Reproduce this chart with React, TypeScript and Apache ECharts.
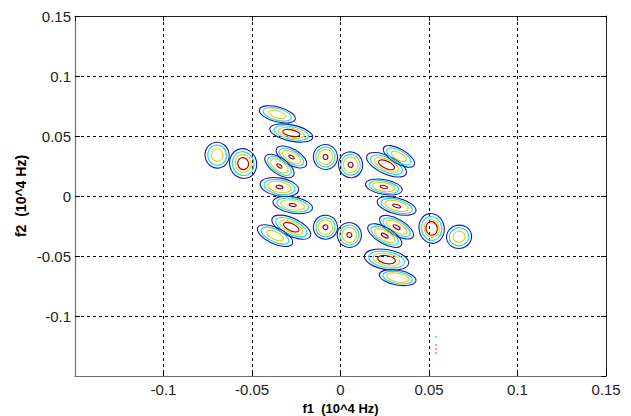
import React, { useEffect, useRef } from "react";
import * as echarts from "echarts";

// Blob (spectral peak) centers in f1 / f2 (10^4 Hz)
const blobF1 = [-0.0357, -0.0278, -0.0697, -0.055, -0.0277, -0.0345, -0.0085, -0.0345, -0.027, -0.0278, -0.037, -0.0085,
  0.0057, 0.026, 0.033, 0.0245, 0.0317, 0.0317, 0.025, 0.005, 0.0515, 0.067, 0.026, 0.0323];
const blobF2 = [0.068, 0.0525, 0.034, 0.027, 0.0325, 0.025, 0.0325, 0.0075, -0.0075, -0.026, -0.033, -0.026,
  0.026, 0.026, 0.033, 0.0075, -0.0083, -0.026, -0.033, -0.0325, -0.027, -0.034, -0.053, -0.068];
// spread of each peak (outer contour semi-axes) along f1 and f2
const spreadF1 = [0.0105, 0.0124, 0.0068, 0.0076, 0.0096, 0.0096, 0.0068, 0.011, 0.0113, 0.0119, 0.0108, 0.0068,
  0.0068, 0.0122, 0.0099, 0.0105, 0.0113, 0.0108, 0.0108, 0.0068, 0.0071, 0.0071, 0.0127, 0.0105];
const spreadF2 = [0.0062, 0.0067, 0.0108, 0.0125, 0.0067, 0.0067, 0.0104, 0.0075, 0.0067, 0.0075, 0.0067, 0.01,
  0.0108, 0.0075, 0.0062, 0.0062, 0.0067, 0.0067, 0.0067, 0.0104, 0.0125, 0.0097, 0.0083, 0.0062];
// tilt of each peak (degrees, clockwise)
const tiltDeg = [15, 12, -10, -15, 30, 35, -10, 10, 10, 25, 25, -10, -10, 25, 30, 10, 15, 30, 30, -15, -10, -10, 10, 10];
// number of contour levels reached by each peak
const levelCount = [3, 4, 3, 4, 4, 4, 4, 4, 4, 4, 3, 4, 4, 4, 3, 4, 4, 4, 4, 4, 4, 3, 4, 4];
// relative size of the highest-level contour
const coreSize = [0, 0.4, 0, 0.4, 0.18, 0.18, 0.2, 0.18, 0.18, 0.4, 0, 0.2, 0.2, 0.4, 0, 0.2, 0.2, 0.2, 0.2, 0.2, 0.45, 0, 0.4, 0];

const dotCyan = [[0.054, -0.1175]];
const dotRed = [[0.054, -0.124], [0.054, -0.1275], [0.054, -0.131]];

const levelColors = ["#1c1c96", "#00e1ff", "#ffc400", "#990000"];

const fmt = (v: number) => String(Math.round(v * 100) / 100);

export default function App() {
  const ref = useRef<HTMLDivElement>(null);
  useEffect(() => {
    if (!ref.current) return;
    const chart = echarts.init(ref.current, undefined, { renderer: "svg" });
    const blobData = blobF1.map((x, i) => [x, blobF2[i], spreadF1[i], spreadF2[i], tiltDeg[i], levelCount[i], coreSize[i]]);
    const labelStyle = { color: "#222", fontSize: 15, fontFamily: "Liberation Sans, Arial, sans-serif" };
    const grid = { color: "#000", type: [3, 3] as any, width: 1 };
    chart.setOption({
      animation: false,
      grid: { left: 75, right: 25, top: 16, bottom: 40, containLabel: false },
      xAxis: [
        {
          type: "value", min: -0.15, max: 0.15, interval: 0.05, position: "bottom",
          axisLine: { show: true, onZero: false, lineStyle: { color: "#707070", width: 1.2 } },
          axisTick: { show: true, inside: true, length: 5, lineStyle: { color: "#000" } },
          axisLabel: { ...labelStyle, showMinLabel: false, margin: 6, formatter: fmt },
          splitLine: { show: true, showMinLine: false, showMaxLine: false, lineStyle: grid },
        },
        {
          type: "value", min: -0.15, max: 0.15, interval: 0.05, position: "top",
          axisLine: { show: true, onZero: false, lineStyle: { color: "#222" } },
          axisTick: { show: true, inside: true, length: 5, lineStyle: { color: "#000" } },
          axisLabel: { show: false }, splitLine: { show: false },
        },
      ],
      yAxis: [
        {
          type: "value", min: -0.15, max: 0.15, interval: 0.05, position: "left",
          axisLine: { show: true, onZero: false, lineStyle: { color: "#707070", width: 1.2 } },
          axisTick: { show: true, inside: true, length: 5, lineStyle: { color: "#000" } },
          axisLabel: { ...labelStyle, showMinLabel: false, margin: 4, formatter: fmt },
          splitLine: { show: true, showMinLine: false, showMaxLine: false, lineStyle: grid },
        },
        {
          type: "value", min: -0.15, max: 0.15, interval: 0.05, position: "right",
          axisLine: { show: true, onZero: false, lineStyle: { color: "#222" } },
          axisTick: { show: true, inside: true, length: 5, lineStyle: { color: "#000" } },
          axisLabel: { show: false }, splitLine: { show: false },
        },
      ],
      graphic: [
        {
          type: "text", x: 340.5, y: 408,
          style: { text: "f1  (10^4 Hz)", fill: "#000", font: "bold 13px Liberation Sans, Arial, sans-serif", align: "center", verticalAlign: "middle" },
        },
        {
          type: "text", x: 21, y: 196, rotation: Math.PI / 2,
          style: { text: "f2  (10^4 Hz)", fill: "#000", font: "bold 14px Liberation Sans, Arial, sans-serif", align: "center", verticalAlign: "middle" },
        },
      ],
      series: [
        {
          type: "custom",
          coordinateSystem: "cartesian2d",
          xAxisIndex: 0, yAxisIndex: 0,
          encode: { x: 0, y: 1 },
          clip: true,
          data: blobData,
          renderItem: (params: any, api: any) => {
            const p = api.coord([api.value(0), api.value(1)]);
            const s = api.size([api.value(2), api.value(3)]);
            const tilt = api.value(4);
            const lv = api.value(5);
            const core = api.value(6);
            const scales = lv === 4 ? [1, 0.8, 0.6, core] : [1, 0.78, 0.48];
            return {
              type: "group",
              children: scales.map((k: number, i: number) => ({
                type: "ellipse",
                x: p[0], y: p[1],
                rotation: (-tilt * Math.PI) / 180,
                shape: { cx: 0, cy: 0, rx: s[0] * k, ry: s[1] * k },
                style: { fill: "none", stroke: levelColors[i], lineWidth: 1.1 },
              })),
            };
          },
        },
        { type: "scatter", data: dotCyan, symbolSize: 2, itemStyle: { color: "#00e1ff" }, silent: true },
        { type: "scatter", data: dotRed, symbolSize: 2, itemStyle: { color: "#ff6060" }, silent: true },
      ],
    });
    return () => chart.dispose();
  }, []);
  return <div ref={ref} style={{ position: "fixed", left: 0, top: 0, width: 631, height: 416, background: "#fff" }} />;
}
